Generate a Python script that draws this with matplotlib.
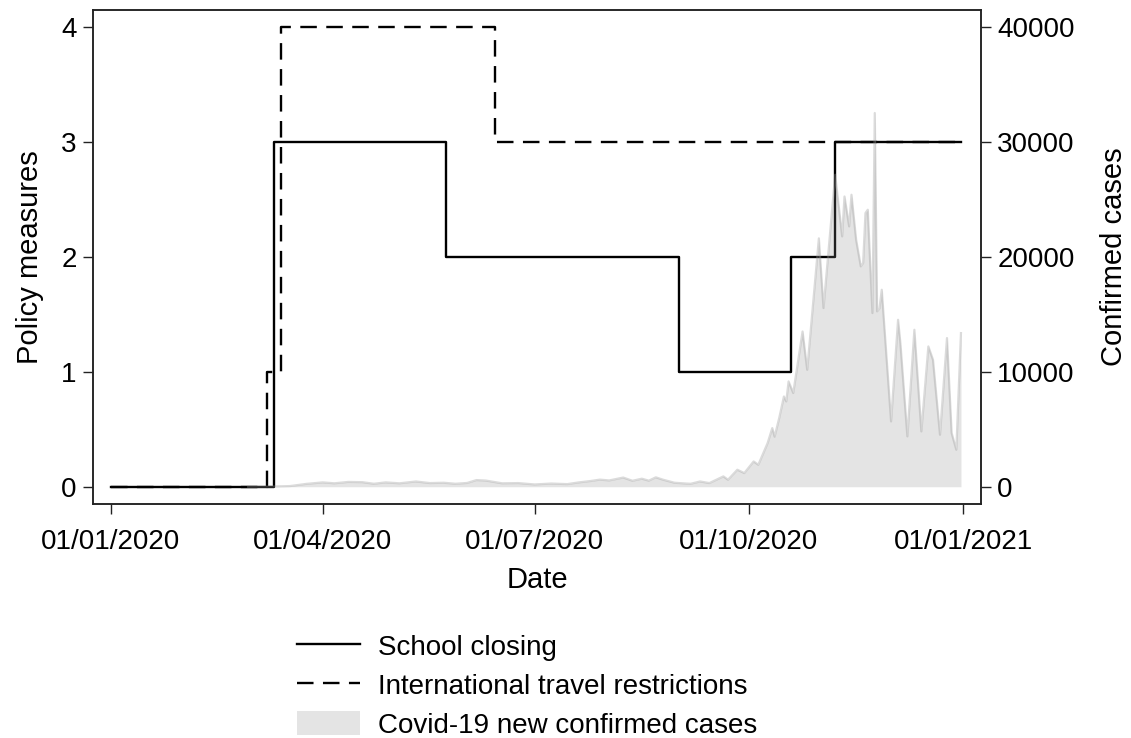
import matplotlib
matplotlib.use('Agg')
import matplotlib.pyplot as plt
import matplotlib.dates as mdates
import pandas as pd

plt.rcParams['font.family'] = ['Liberation Sans', 'DejaVu Sans']

# policy step changes (value holds from the date on)
school_dates = ['2020-01-01', '2020-03-11', '2020-05-24', '2020-09-01', '2020-10-19', '2020-11-07', '2020-12-31']
school_level = [0, 3, 2, 1, 2, 3, 3]
travel_dates = ['2020-01-01', '2020-03-08', '2020-03-14', '2020-06-14', '2020-12-31']
travel_level = [0, 1, 4, 3, 3]

# new confirmed cases
case_dates = ['2020-02-29', '2020-03-10', '2020-03-18', '2020-03-25', '2020-04-01', '2020-04-06',
              '2020-04-12', '2020-04-18', '2020-04-23', '2020-04-28', '2020-05-04', '2020-05-11',
              '2020-05-17', '2020-05-23', '2020-05-28', '2020-06-02', '2020-06-06', '2020-06-10',
              '2020-06-17', '2020-06-24', '2020-07-01', '2020-07-08', '2020-07-15', '2020-07-20',
              '2020-07-25', '2020-07-29', '2020-08-02', '2020-08-08', '2020-08-12', '2020-08-16',
              '2020-08-19', '2020-08-22', '2020-08-25', '2020-08-30', '2020-09-04', '2020-09-06',
              '2020-09-10', '2020-09-14', '2020-09-20', '2020-09-22', '2020-09-26', '2020-09-29',
              '2020-10-03', '2020-10-05', '2020-10-09', '2020-10-11', '2020-10-12', '2020-10-14',
              '2020-10-16', '2020-10-17', '2020-10-18', '2020-10-20', '2020-10-24', '2020-10-26',
              '2020-10-31', '2020-11-02', '2020-11-07', '2020-11-10', '2020-11-11', '2020-11-13',
              '2020-11-14', '2020-11-16', '2020-11-18', '2020-11-19', '2020-11-20', '2020-11-21',
              '2020-11-23', '2020-11-24', '2020-11-25', '2020-11-26', '2020-11-27', '2020-12-01',
              '2020-12-04', '2020-12-05', '2020-12-08', '2020-12-11', '2020-12-14', '2020-12-17',
              '2020-12-19', '2020-12-22', '2020-12-25', '2020-12-27', '2020-12-29', '2020-12-31']
case_values = [0, 20, 60, 250, 380, 300,
               420, 400, 260, 380, 300, 460,
               320, 350, 260, 330, 580, 540,
               300, 320, 200, 280, 230, 380,
               500, 620, 550, 800, 520, 700,
               530, 820, 620, 350, 280, 260,
               460, 320, 900, 610, 1480, 1190,
               2200, 1910, 3800, 5100, 4350, 6000,
               7850, 7420, 9160, 8150, 13500, 10170,
               21600, 15540, 27130, 21770, 25240, 22640,
               25390, 21480, 19160, 19450, 23800, 24090,
               15100, 32500, 15250, 15500, 17130, 5680,
               14520, 12490, 4380, 13650, 4810, 12200,
               11040, 4520, 12930, 4670, 3220, 13360]

fig = plt.figure(figsize=(11.31, 7.38), dpi=100)
W, H = 1131, 738
ax = fig.add_axes([93.3 / W, 1 - 504 / H, (980.7 - 93.3) / W, (504 - 9.5) / H])
ax2 = ax.twinx()

ax.plot(pd.to_datetime(school_dates), school_level, drawstyle='steps-post',
        color='black', lw=1.7, label='School closing')
ax.plot(pd.to_datetime(travel_dates), travel_level, drawstyle='steps-post',
        color='black', lw=1.7, dashes=(7, 4), label='International travel restrictions')

cd = pd.to_datetime(case_dates)
ax2.fill_between(cd, case_values, color=(0.55, 0.55, 0.55), alpha=0.23, lw=0,
                 label='Covid-19 new confirmed cases')
ax2.plot(cd, case_values, color=(0.6, 0.6, 0.6), alpha=0.35, lw=1.6)

pad = pd.Timedelta(days=7.47)
ax.set_xlim(pd.Timestamp('2020-01-01') - pad, pd.Timestamp('2021-01-01') + pad)
ax.set_ylim(-0.15, 4.15)
ax2.set_ylim(-1500, 41500)

ax.set_xticks(pd.to_datetime(['2020-01-01', '2020-04-01', '2020-07-01', '2020-10-01', '2021-01-01']))
ax.xaxis.set_major_formatter(mdates.DateFormatter('%d/%m/%Y'))
ax.set_yticks([0, 1, 2, 3, 4])
ax2.set_yticks([0, 10000, 20000, 30000, 40000])

for a in (ax, ax2):
    a.tick_params(direction='out', length=7, width=1, labelsize=20, pad=5, color='#222222')
    for s in a.spines.values():
        s.set_linewidth(1.1)
        s.set_color('#222222')
ax.tick_params(axis='x', pad=11)

ax.set_xlabel('Date', fontsize=21, labelpad=8)
ax.set_ylabel('Policy measures', fontsize=21, labelpad=12)
ax2.set_ylabel('Confirmed cases', fontsize=21, labelpad=18)

h1, l1 = ax.get_legend_handles_labels()
h2, l2 = ax2.get_legend_handles_labels()
fig.legend(h1 + h2, l1 + l2, loc='upper left', bbox_to_anchor=(297 / W, 1 - 633 / H),
           frameon=False, fontsize=20, handlelength=2.27, handletextpad=0.65,
           labelspacing=0.42, handleheight=0.95, borderpad=0, borderaxespad=0)

fig.savefig('out.png', dpi=100)
